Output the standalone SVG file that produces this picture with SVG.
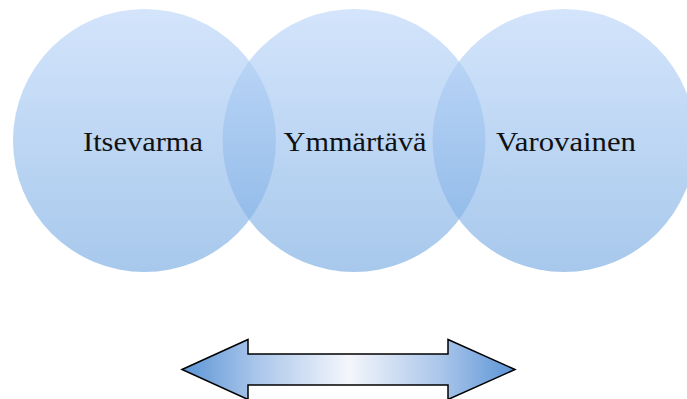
<svg xmlns="http://www.w3.org/2000/svg" width="687" height="399" viewBox="0 0 687 399">
  <defs>
    <linearGradient id="circGrad" x1="0" y1="0" x2="0" y2="1">
      <stop offset="0" stop-color="#bcd6f9"/>
      <stop offset="1" stop-color="#78abe2"/>
    </linearGradient>
    <linearGradient id="arrowGrad" x1="182" y1="0" x2="515" y2="0" gradientUnits="userSpaceOnUse">
      <stop offset="0" stop-color="#5b95d6"/>
      <stop offset="0.22" stop-color="#a9c5ea"/>
      <stop offset="0.5" stop-color="#f4f6fb"/>
      <stop offset="0.78" stop-color="#a9c5ea"/>
      <stop offset="1" stop-color="#5b95d6"/>
    </linearGradient>
  </defs>
  <style>
    .circle { fill: url(#circGrad); fill-opacity: 0.65; }
    .label { font-family: "Liberation Serif", "Times New Roman", serif; font-size: 27px; fill: #111111; text-anchor: middle; }
    .arrow { fill: url(#arrowGrad); stroke: #000000; stroke-width: 1.5; stroke-linejoin: miter; }
  </style>
  <rect width="687" height="399" fill="#ffffff"/>
  <g id="node-itsevarma">
    <circle class="circle" cx="144.5" cy="140.5" r="131.5"/>
    <text class="label" x="143" y="151" textLength="120" lengthAdjust="spacingAndGlyphs">Itsevarma</text>
  </g>
  <g id="node-ymmartava">
    <circle class="circle" cx="354" cy="140.5" r="131.5"/>
    <text class="label" x="355" y="151" textLength="143" lengthAdjust="spacingAndGlyphs">Ymmärtävä</text>
  </g>
  <g id="node-varovainen">
    <circle class="circle" cx="564" cy="140.5" r="131.5"/>
    <text class="label" x="566" y="151" textLength="140" lengthAdjust="spacingAndGlyphs">Varovainen</text>
  </g>
  <g id="connectors">
    <path class="arrow" d="M182,369.5 L248,339.5 L248,354 L448,354 L448,339.5 L515,369.5 L448,399.5 L448,385 L248,385 L248,399.5 Z"/>
  </g>
</svg>
